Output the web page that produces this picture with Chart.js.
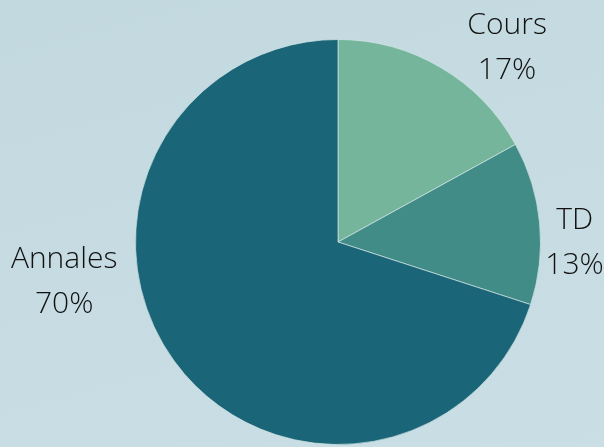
<!DOCTYPE html>
<html>
<head>
<meta charset="utf-8">
<script src="https://cdn.jsdelivr.net/npm/chart.js@4"></script>
<style>
  html, body { margin: 0; padding: 0; }
  body {
    width: 604px; height: 447px; overflow: hidden;
    background: linear-gradient(165deg, #c2d9df 0%, #c6dce2 50%, #cadfe5 100%);
  }
  #chart { display: block; }
</style>
</head>
<body>
<canvas id="chart" width="604" height="447"></canvas>
<script>
const categories = ["Cours", "TD", "Annales"];
const shares = [17, 13, 70];
const sliceColors = ["#74b59b", "#428c87", "#1a6577"];

// nudge of each label from the point just outside its slice, in px
const labelNudges = [
  { dx: 66, dy: -22 },
  { dx: 35, dy: 18 },
  { dx: -110, dy: -81 },
];

const outsideLabels = {
  id: "outsideLabels",
  afterDatasetsDraw(chart) {
    const ctx = chart.ctx;
    const meta = chart.getDatasetMeta(0);
    ctx.save();
    ctx.font = "300 30px 'Open Sans', Lato, sans-serif";
    ctx.fillStyle = "#111111";
    ctx.textAlign = "center";
    ctx.textBaseline = "alphabetic";
    meta.data.forEach((arc, i) => {
      const { x, y, startAngle, endAngle, outerRadius } = arc.getProps(
        ["x", "y", "startAngle", "endAngle", "outerRadius"], true);
      const mid = (startAngle + endAngle) / 2;
      const cx = x + Math.cos(mid) * outerRadius + labelNudges[i].dx;
      const cy = y + Math.sin(mid) * outerRadius + labelNudges[i].dy;
      ctx.fillText(categories[i], cx, cy - 12);
      ctx.fillText(shares[i] + "%", cx, cy + 33);
    });
    ctx.restore();
  },
};

new Chart(document.getElementById("chart"), {
  type: "pie",
  data: {
    labels: categories,
    datasets: [
      {
        data: shares,
        backgroundColor: sliceColors,
        borderColor: "rgba(210, 230, 230, 0.7)",
        borderWidth: 1,
      },
    ],
  },
  options: {
    responsive: false,
    animation: false,
    layout: { padding: { top: 39, bottom: 2, left: 72, right: 0 } },
    plugins: {
      legend: { display: false },
      tooltip: { enabled: false },
    },
  },
  plugins: [outsideLabels],
});
</script>
</body>
</html>
